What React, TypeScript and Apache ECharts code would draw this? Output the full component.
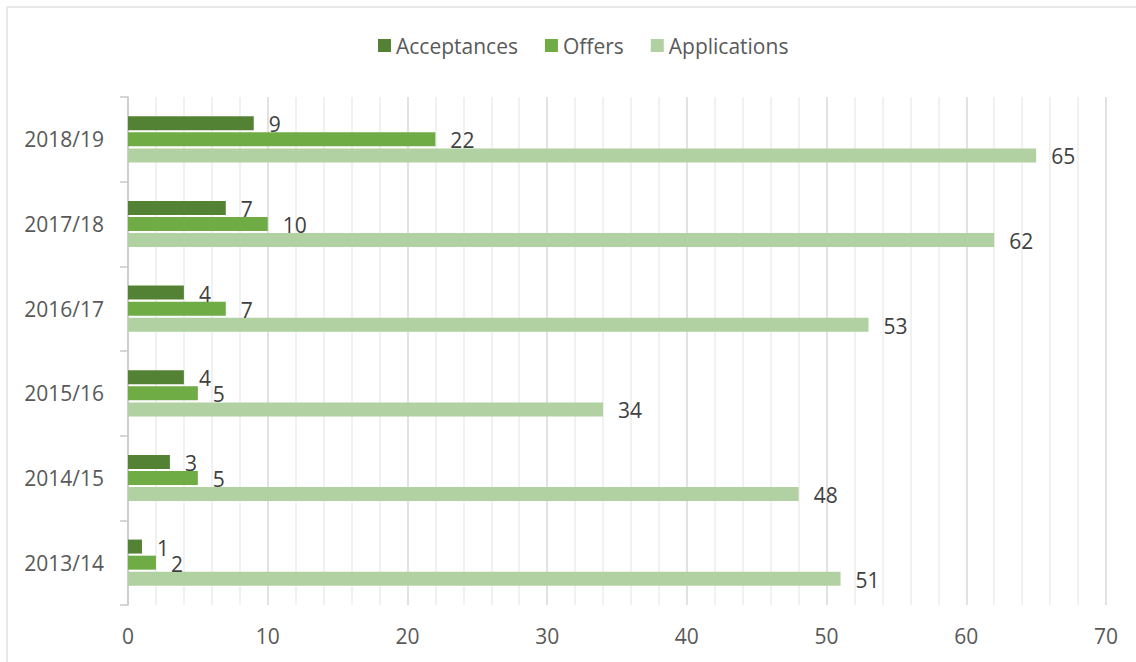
import React, { useEffect, useRef } from "react";
import * as echarts from "echarts";

const categories = ["2013/14", "2014/15", "2015/16", "2016/17", "2017/18", "2018/19"];
const acceptances = [1, 3, 4, 4, 7, 9];
const offers = [2, 5, 5, 7, 10, 22];
const applications = [51, 48, 34, 53, 62, 65];
const legendNames = ["Acceptances", "Offers", "Applications"];

const FONT = "'Open Sans', 'Noto Sans', sans-serif";

export default function App() {
  const ref = useRef<HTMLDivElement>(null);
  useEffect(() => {
    document.body.style.margin = "0";
    const chart = echarts.init(ref.current!, null, { renderer: "svg" });
    const label = {
      show: true,
      position: "right",
      distance: 15,
      color: "#404040",
      fontSize: 21,
      fontFamily: FONT,
      offset: [0, 1],
    };
    chart.setOption({
      animation: false,
      backgroundColor: "#ffffff",
      textStyle: { fontFamily: FONT },
      legend: {
        data: legendNames,
        top: 30,
        left: 373,
        itemWidth: 13,
        itemHeight: 13,
        itemGap: 27,
        icon: "rect",
        textStyle: { fontSize: 21, color: "#595959", fontFamily: FONT },
      },
      grid: { left: 128, right: 30, top: 97, bottom: 57, containLabel: false },
      xAxis: {
        type: "value",
        min: 0,
        max: 70,
        interval: 2,
        axisLine: { show: false },
        axisTick: { show: false },
        axisLabel: {
          margin: 20,
          fontSize: 21,
          color: "#595959",
          fontFamily: FONT,
          formatter: (v: number) => (v % 10 === 0 ? String(v) : ""),
        },
        splitLine: {
          show: true,
          lineStyle: {
            color: ["#d9d9d9", "#ececec", "#ececec", "#ececec", "#ececec"],
            width: 1.5,
          },
        },
      },
      yAxis: {
        type: "category",
        data: categories,
        axisLine: { show: true, lineStyle: { color: "#c8c8c8", width: 1.5 } },
        axisTick: { show: true, length: 8, lineStyle: { color: "#c8c8c8", width: 1.5 } },
        axisLabel: { margin: 24, fontSize: 21, color: "#595959", fontFamily: FONT },
        splitLine: { show: false },
      },
      graphic: [
        { type: "line", shape: { x1: 7, y1: 7, x2: 1136, y2: 7 }, style: { stroke: "#e0e0e0", lineWidth: 1.5 } },
        { type: "line", shape: { x1: 7, y1: 7, x2: 7, y2: 662 }, style: { stroke: "#e0e0e0", lineWidth: 1.5 } },
      ],
      series: [
        {
          name: "Acceptances",
          type: "bar",
          data: acceptances,
          barWidth: 14,
          barGap: "15%",
          itemStyle: { color: "#548235" },
          label,
        },
        {
          name: "Offers",
          type: "bar",
          data: offers,
          barWidth: 14,
          barGap: "15%",
          itemStyle: { color: "#6fac46" },
          label,
        },
        {
          name: "Applications",
          type: "bar",
          data: applications,
          barWidth: 14,
          barGap: "15%",
          itemStyle: { color: "#b2d1a2" },
          label,
        },
      ],
    });
    return () => chart.dispose();
  }, []);
  return <div ref={ref} style={{ width: 1136, height: 662 }} />;
}
